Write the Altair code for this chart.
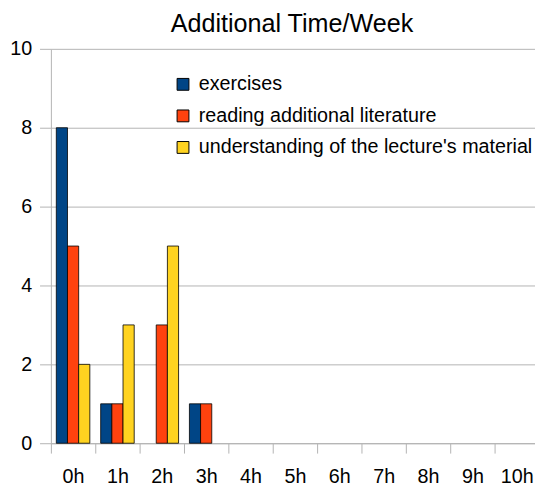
import altair as alt
import pandas as pd

categories = ["0h", "1h", "2h", "3h", "4h", "5h", "6h", "7h", "8h", "9h", "10h"]
series = ["exercises", "reading additional literature", "understanding of the lecture's material"]
exercises = [8, 1, 0, 1, 0, 0, 0, 0, 0, 0, 0]
reading = [5, 1, 3, 1, 0, 0, 0, 0, 0, 0, 0]
understanding = [2, 3, 5, 0, 0, 0, 0, 0, 0, 0, 0]
colors = ["#004586", "#ff420e", "#ffd320"]
y_ticks = [0, 2, 4, 6, 8, 10]

rows = []
for s, vals in zip(series, [exercises, reading, understanding]):
    for c, v in zip(categories, vals):
        rows.append({"cat": c, "series": s, "value": v})
df = pd.DataFrame(rows)

FONT = "Liberation Sans"
GRID = "#b3b3b3"

chart = alt.Chart(df).transform_filter("datum.value > 0").mark_bar(
    stroke="#000000", strokeWidth=0.8
).encode(
    x=alt.X("cat:N", sort=categories,
            scale=alt.Scale(domain=categories, range=[0, 495], paddingInner=0, paddingOuter=0),
            axis=alt.Axis(title=None, tickBand="extent", labelAngle=0, grid=False,
                          domainColor=GRID, tickColor=GRID, tickSize=10, labelPadding=14,
                          labelFontSize=20, labelFont=FONT, labelColor="#000000")),
    xOffset=alt.XOffset("series:N", sort=series,
                        scale=alt.Scale(domain=series, paddingInner=0, paddingOuter=0.485)),
    y=alt.Y("value:Q", scale=alt.Scale(domain=[0, 10]),
            axis=alt.Axis(values=y_ticks, title=None, gridColor=GRID, domainColor=GRID,
                          tickColor=GRID, tickSize=11.5, labelPadding=8, labelFontSize=20,
                          labelFont=FONT, labelColor="#000000")),
    color=alt.Color("series:N", scale=alt.Scale(domain=series, range=colors),
                    legend=alt.Legend(title=None, orient="none", legendX=124, legendY=26,
                                      symbolType="square", symbolSize=144,
                                      symbolStrokeColor="#000000", symbolStrokeWidth=1,
                                      labelFontSize=20, labelFont=FONT, labelColor="#000000",
                                      labelOffset=6, rowPadding=12, padding=0,
                                      labelLimit=0)),
).properties(
    width=491,
    height=400,
    title=alt.Title("Additional Time/Week", fontSize=25.5, font=FONT, fontWeight="normal",
                    anchor="middle", dx=-1, dy=22, offset=4, baseline="alphabetic", color="#000000"),
    autosize=alt.AutoSizeParams(type="none"),
    padding={"left": 43.5, "top": 38, "right": 0, "bottom": 44},
).configure_view(stroke=None)

chart.save("out.html", embed_options={"renderer": "svg", "actions": False})
